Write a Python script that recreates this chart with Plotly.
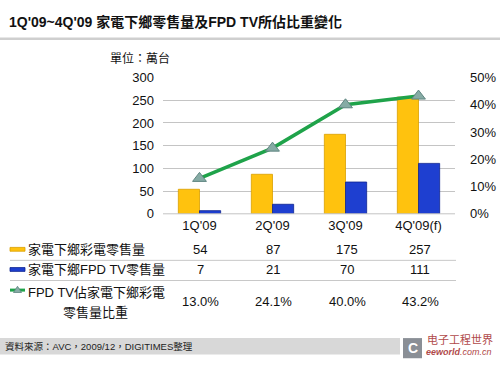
import plotly.graph_objects as go

categories = ["1Q'09", "2Q'09", "3Q'09", "4Q'09(f)"]
retail_all = [54, 87, 175, 257]
retail_fpd = [7, 21, 70, 111]
share_pct = [13.0, 24.1, 40.0, 43.2]
left_ticks = [0, 50, 100, 150, 200, 250, 300]
right_ticks = [0, 10, 20, 30, 40, 50]

name_all = "家電下鄉彩電零售量"
name_fpd = "家電下鄉FPD TV零售量"
name_share_1 = "FPD TV佔家電下鄉彩電"
name_share_2 = "零售量比重"
title = "1Q'09~4Q'09 家電下鄉零售量及FPD TV所佔比重變化"
unit = "單位：萬台"
source = "資料來源：AVC，2009/12，DIGITIMES整理"

W, H = 500, 372
FONT = "Arial, 'Liberation Sans', 'Noto Sans CJK TC', sans-serif"

def px(x):
    return x / W

def py(y):
    return 1 - y / H

def label(fig, text, x, y, size=13, color="#111", xanchor="center"):
    fig.add_annotation(text=text, xref="paper", yref="paper", x=px(x), y=py(y),
                       xanchor=xanchor, yanchor="middle", showarrow=False,
                       font=dict(size=size, color=color))

fig = go.Figure()
fig.add_trace(go.Bar(x=categories, y=retail_all, name=name_all,
                     marker=dict(color="#FFC20E", line=dict(color="#D9A000", width=0.8)),
                     showlegend=False))
fig.add_trace(go.Bar(x=categories, y=retail_fpd, name=name_fpd,
                     marker=dict(color="#1E3FD0", line=dict(color="#0E2390", width=0.8)),
                     showlegend=False))
fig.add_trace(go.Scatter(x=categories, y=[v / 100 for v in share_pct], yaxis="y2",
                         mode="lines+markers",
                         line=dict(color="#1FA34A", width=3.5),
                         marker=dict(symbol="triangle-up", size=12, color="#86ABA5",
                                     line=dict(color="#5E8580", width=1)),
                         showlegend=False))

fig.update_layout(
    width=W, height=H,
    margin=dict(l=0, r=0, t=0, b=0),
    paper_bgcolor="white", plot_bgcolor="white",
    font=dict(family=FONT, size=13, color="#111"),
    barmode="group", bargap=0.42, bargroupgap=0.0,
    xaxis=dict(domain=[px(163), px(455)], anchor="y", showgrid=False,
               showline=False, ticks="", tickfont=dict(size=13), ticklabelstandoff=2),
    yaxis=dict(domain=[py(215.5), py(73.5)], range=[0, 300], tickvals=left_ticks,
               showgrid=True, gridcolor="#C4C4C4", gridwidth=1, zeroline=False,
               showline=False, ticks="", ticklabelstandoff=8, tickfont=dict(size=13)),
    yaxis2=dict(overlaying="y", side="right", range=[0, 0.5],
                tickvals=[v / 100 for v in right_ticks],
                ticktext=[f"{v}%" for v in right_ticks],
                showgrid=False, zeroline=False, showline=False, ticks="",
                ticklabelstandoff=14, tickfont=dict(size=13)),
)

# baseline
fig.add_shape(type="line", xref="paper", yref="paper", x0=px(163), x1=px(455),
              y0=py(215.5), y1=py(215.5), line=dict(color="#C4C4C4", width=1))

# title + separator
label(fig, f"<b>{title}</b>", 7, 16, size=14, xanchor="left")
fig.add_shape(type="line", xref="paper", yref="paper", x0=0, x1=1, y0=py(33), y1=py(33),
              line=dict(color="#CFCFCF", width=2.5))
label(fig, unit, 140, 54, size=12)

# table
col_x = [200, 273, 347, 420]
rows_y = [253, 274, 307]
for i in range(len(categories)):
    label(fig, str(retail_all[i]), col_x[i], rows_y[0])
    label(fig, str(retail_fpd[i]), col_x[i], rows_y[1])
    label(fig, f"{share_pct[i]:.1f}%", col_x[i], rows_y[2])

for yy in [264, 285]:
    fig.add_shape(type="line", xref="paper", yref="paper", x0=px(10), x1=px(456),
                  y0=py(yy), y1=py(yy), line=dict(color="#C8C8C8", width=1))

# legend labels in table
label(fig, name_all, 26, 253, xanchor="left")
label(fig, name_fpd, 26, 274, xanchor="left")
label(fig, name_share_1, 26, 297, xanchor="left")
label(fig, name_share_2, 95, 318)

# legend icons
fig.add_shape(type="rect", xref="paper", yref="paper", x0=px(10), x1=px(25),
              y0=py(254.5), y1=py(250.5), fillcolor="#FFC20E", line=dict(color="#D9A000", width=0.8))
fig.add_shape(type="rect", xref="paper", yref="paper", x0=px(10), x1=px(25),
              y0=py(275.5), y1=py(271.5), fillcolor="#1E3FD0", line=dict(color="#0E2390", width=0.8))
fig.add_shape(type="line", xref="paper", yref="paper", x0=px(10), x1=px(25),
              y0=py(295), y1=py(295), line=dict(color="#1FA34A", width=3))
fig.add_shape(type="path", xref="paper", yref="paper",
              path=f"M {px(13.5)},{py(297.5)} L {px(17.5)},{py(291)} L {px(21.5)},{py(297.5)} Z",
              fillcolor="#86ABA5", line=dict(color="#5E8580", width=0.8))

# footer
fig.add_shape(type="rect", xref="paper", yref="paper", x0=0, x1=px(400), y0=py(362), y1=py(345),
              fillcolor="#D8D8D8", line=dict(width=0), layer="below")
label(fig, source, 3, 354, size=9.5, color="#222", xanchor="left")

# watermark
fig.add_shape(type="rect", xref="paper", yref="paper", x0=px(403), x1=px(422), y0=py(366), y1=py(345),
              fillcolor="#8A8F96", line=dict(width=0))
label(fig, "<b>C</b>", 412.5, 355.5, size=14, color="white")
label(fig, "电子工程世界", 425, 347, size=11, color="#B04A4A", xanchor="left")
label(fig, "<i><b>eeworld</b>.com.cn</i>", 424, 359, size=9, color="#B04A4A", xanchor="left")

fig.write_html("out.html")
